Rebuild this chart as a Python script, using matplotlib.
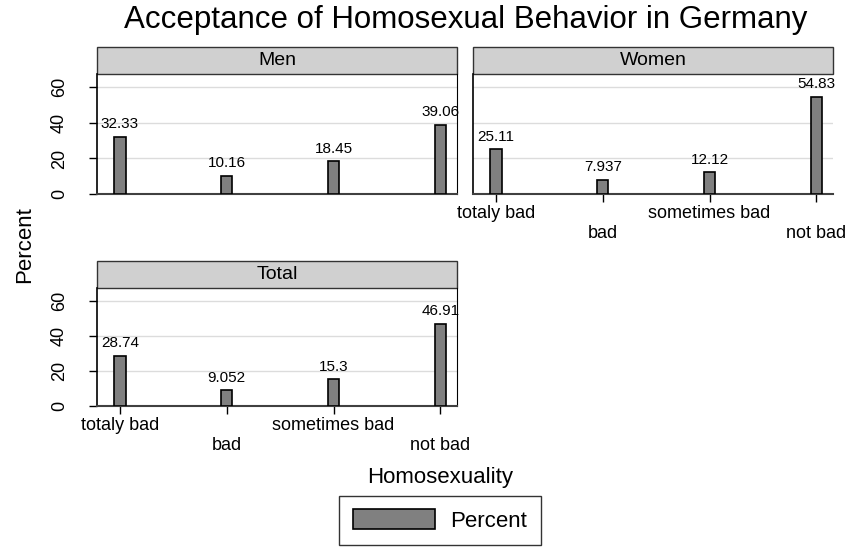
import matplotlib
matplotlib.use("Agg")
import matplotlib.pyplot as plt
from matplotlib.patches import Rectangle
import numpy as np

plt.rcParams['font.family'] = ['Liberation Sans', 'DejaVu Sans']

categories = ["totaly bad", "bad", "sometimes bad", "not bad"]
men = [32.33, 10.16, 18.45, 39.06]
women = [25.11, 7.937, 12.12, 54.83]
total = [28.74, 9.052, 15.3, 46.91]
yticks = [0, 20, 40, 60]

W, H = 855, 558

def rect(l, t, r, b):
    return [l / W, 1 - b / H, (r - l) / W, (b - t) / H]

fig = plt.figure(figsize=(W / 100, H / 100), dpi=100)
fig.patch.set_facecolor("white")

panels = [
    ("Men", men, rect(97, 74, 457, 194), True, False, True),
    ("Women", women, rect(473, 74, 833, 194), False, True, False),
    ("Total", total, rect(97, 288, 457, 406), True, True, True),
]

x = np.arange(1, len(categories) + 1)
bars_for_legend = None
for name, vals, pos, show_y, show_x, right_spine in panels:
    ax = fig.add_axes(pos)
    hpx = pos[3] * H
    bars = ax.bar(x, vals, width=0.105, color="#808080", edgecolor="black", linewidth=1.2, zorder=3)
    bars_for_legend = bars
    ax.bar_label(bars, labels=["%g" % v for v in vals], padding=4, fontsize=11)
    ax.set_xlim(0.785, 4.155)
    ax.set_ylim(0, 67.5)
    ax.set_yticks(yticks)
    ax.yaxis.grid(True, color="#dcdcdc", linewidth=1)
    ax.set_axisbelow(True)
    ax.spines["top"].set_visible(False)
    ax.spines["right"].set_visible(right_spine)
    ax.spines["right"].set_color("black")
    ax.spines["left"].set_color("black")
    ax.spines["left"].set_linewidth(1.2)
    ax.spines["bottom"].set_color("#404040")
    ax.spines["bottom"].set_linewidth(1.5)
    if show_y:
        ax.tick_params(axis="y", length=6, width=1, labelsize=13, pad=15, colors="black")
        for lab in ax.get_yticklabels():
            lab.set_rotation(90)
            lab.set_va("center")
    else:
        ax.tick_params(axis="y", length=0, labelleft=False)
    ax.set_xticks(x)
    if show_x:
        ax.set_xticklabels(["totaly bad", "\nbad", "sometimes bad", "\nnot bad"])
        ax.tick_params(axis="x", length=6, width=1, labelsize=13, pad=2)
    else:
        ax.tick_params(axis="x", length=0, labelbottom=False)
    sh = 27 / hpx
    ax.add_patch(Rectangle((0, 1), 1, sh, transform=ax.transAxes, clip_on=False,
                           facecolor="#d0d0d0", edgecolor="#333333", linewidth=1))
    ax.text(0.5, 1 + sh / 2, name, transform=ax.transAxes, ha="center", va="center", fontsize=14)

fig.text(465.5 / W, 1 - 20 / H, "Acceptance of Homosexual Behavior in Germany",
         ha="center", va="center", fontsize=22.5)
fig.text(440 / W, 1 - 477 / H, "Homosexuality", ha="center", va="center", fontsize=16)
fig.text(25 / W, 1 - 245 / H, "Percent", ha="center", va="center", rotation=90, fontsize=16)

leg = fig.legend(handles=[bars_for_legend], labels=["Percent"], loc="upper center",
                 bbox_to_anchor=(440 / W, 1 - 496 / H), frameon=True, fancybox=False,
                 edgecolor="black", fontsize=16, handlelength=3.7, handleheight=1.0,
                 borderpad=0.6, handletextpad=0.7, borderaxespad=0)
leg.get_frame().set_linewidth(1)

fig.savefig("out.png", dpi=100)
